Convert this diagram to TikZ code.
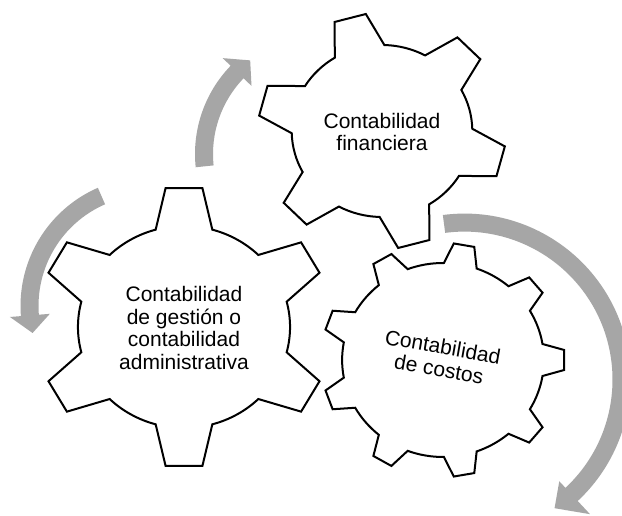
\documentclass[tikz,border=0pt]{standalone}
\usepackage{fontspec}
\setmainfont{Liberation Sans}
\definecolor{arrowgray}{HTML}{A6A6A6}
\tikzset{
  gearline/.style={draw=black, line width=2pt, fill=white, line join=miter},
  arrowfill/.style={fill=arrowgray, draw=none},
  lbl/.style={align=center, font=\fontsize{21}{22.5}\selectfont, inner sep=0pt}
}
\begin{document}
\begin{tikzpicture}[x=1pt, y=1pt]
\useasboundingbox (0,0) rectangle (622,516);
\clip (0,0) rectangle (622,516);
\fill[white] (0,0) rectangle (622,516);

% Gear 1 (left, 6 teeth)
\begin{scope}[shift={(184,189)}, xscale=1.05]
\draw[gearline] (90-15.5:101)
  \foreach \k in {0,...,5} {
    -- ({90+60*\k-7.2}:140) -- ({90+60*\k+7.2}:140) -- ({90+60*\k+15.5}:101)
    arc[start angle={90+60*\k+15.5}, end angle={150+60*\k-15.5}, radius=101]
  } -- cycle;
\end{scope}

% Gear 2 (top, 6 teeth)
\begin{scope}[shift={(382,385)}, xscale=1.05]
\draw[gearline] (105-16.5:86)
  \foreach \k in {0,...,5} {
    -- ({105+60*\k-7.5}:118) -- ({105+60*\k+7.5}:118) -- ({105+60*\k+16.5}:86)
    arc[start angle={105+60*\k+16.5}, end angle={165+60*\k-16.5}, radius=86]
  } -- cycle;
\end{scope}

% Gear 3 (lower right, 9 teeth)
\begin{scope}[shift={(443,156)}, xscale=1.04]
\draw[gearline] (-9.5:97)
  \foreach \k in {0,...,8} {
    -- ({40*\k-4.9}:117) -- ({40*\k+4.9}:117) -- ({40*\k+9.5}:97)
    arc[start angle={40*\k+9.5}, end angle={40+40*\k-9.5}, radius=97]
  } -- cycle;
\end{scope}

% Arrow A (upper left, clockwise)
\begin{scope}[shift={(322,362)}]
\fill[arrowfill] (186:127) arc[start angle=186, end angle=136, radius=127]
  -- (136:138) -- (127.5:118) -- (136:98) -- (136:109)
  arc[start angle=136, end angle=186, radius=109] -- cycle;
\end{scope}

% Arrow B (left, counter-clockwise)
\begin{scope}[shift={(149.5,210)}]
\fill[arrowfill] (113.6:129) arc[start angle=113.6, end angle=184.5, radius=129]
  -- (184.5:140) -- (193:120) -- (184.5:100) -- (184.5:111)
  arc[start angle=184.5, end angle=113.6, radius=111] -- cycle;
\end{scope}

% Arrow C (right, clockwise)
\begin{scope}[shift={(464.5,136.4)}]
\fill[arrowfill] (97.5:166) arc[start angle=97.5, end angle=-47, radius=166]
  -- (-47:184) -- (-55:157) -- (-47:139) -- (-47:148)
  arc[start angle=-47, end angle=97.5, radius=148] -- cycle;
\end{scope}

% Labels
\node[lbl] (gestion) at (184,188) {Contabilidad\\de gestión o\\contabilidad\\administrativa};
\node[lbl] (financiera) at (382,384) {Contabilidad\\financiera};
\node[lbl, rotate=-10] (costos) at (441,158) {Contabilidad\\de costos};
\end{tikzpicture}
\end{document}
